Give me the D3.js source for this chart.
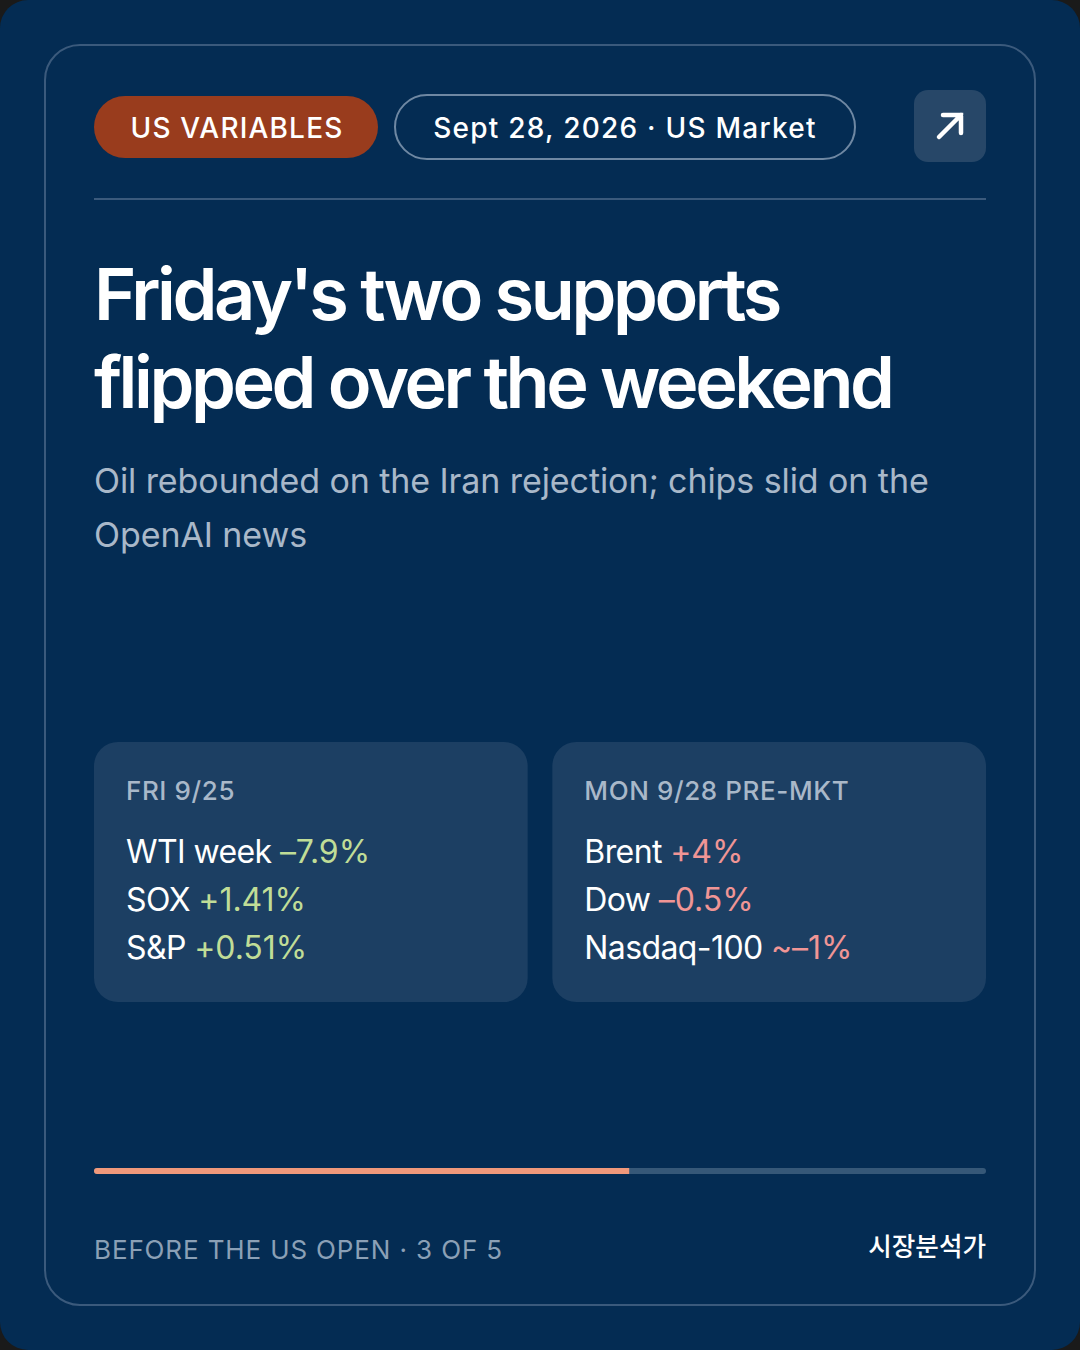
<!DOCTYPE html>
<html>
<head>
<meta charset="utf-8">
<script src="https://cdn.jsdelivr.net/npm/d3@7"></script>
<style>
  html, body { margin: 0; padding: 0; background: #1a1a1a; }
  svg { display: block; }
  text { font-family: Inter, "Noto Sans CJK KR", sans-serif; }
</style>
</head>
<body>
<div id="card"></div>
<script>
const tag = "US VARIABLES";
const dateline = "Sept 28, 2026 · US Market";
const titleLines = ["Friday's two supports", "flipped over the weekend"];
const subtitleLines = ["Oil rebounded on the Iran rejection; chips slid on the", "OpenAI news"];
const panelTitles = ["FRI 9/25", "MON 9/28 PRE-MKT"];
const fridayNames = ["WTI week", "SOX", "S&P"];
const fridayValues = ["–7.9%", "+1.41%", "+0.51%"];
const mondayNames = ["Brent", "Dow", "Nasdaq-100"];
const mondayValues = ["+4%", "–0.5%", "~–1%"];
const footer = "BEFORE THE US OPEN · 3 OF 5";
const brand = "시장분석가";
const currentStep = 3;
const totalSteps = 5;

const navy = "#042c53";
const line = "#3b5a7c";

const svg = d3
  .select("#card")
  .append("svg")
  .attr("width", 1080)
  .attr("height", 1350);

// page and inner frame
svg.append("rect").attr("width", 1080).attr("height", 1350).attr("rx", 28).attr("fill", navy);
svg
  .append("rect")
  .attr("x", 45)
  .attr("y", 45)
  .attr("width", 990)
  .attr("height", 1260)
  .attr("rx", 35)
  .attr("fill", "none")
  .attr("stroke", line)
  .attr("stroke-width", 2);

// header
svg.append("rect").attr("x", 94).attr("y", 96).attr("width", 284).attr("height", 62).attr("rx", 31).attr("fill", "#993c1d");
svg
  .append("text")
  .attr("x", 237)
  .attr("y", 138)
  .attr("text-anchor", "middle")
  .attr("font-size", 28)
  .attr("font-weight", 500)
  .attr("letter-spacing", 1.18)
  .attr("fill", "#fff")
  .text(tag);

svg
  .append("rect")
  .attr("x", 395)
  .attr("y", 95)
  .attr("width", 460)
  .attr("height", 64)
  .attr("rx", 32)
  .attr("fill", "none")
  .attr("stroke", "#6f88a3")
  .attr("stroke-width", 2);
svg
  .append("text")
  .attr("x", 625)
  .attr("y", 138)
  .attr("text-anchor", "middle")
  .attr("font-size", 28)
  .attr("font-weight", 500)
  .attr("letter-spacing", 1.24)
  .attr("fill", "#fff")
  .text(dateline);

svg.append("rect").attr("x", 914).attr("y", 90).attr("width", 72).attr("height", 72).attr("rx", 14).attr("fill", "#274768");
svg
  .append("path")
  .attr("d", "M939 137L961 115M943 115H961V133")
  .attr("fill", "none")
  .attr("stroke", "#fff")
  .attr("stroke-width", 4.5)
  .attr("stroke-linecap", "round");

svg.append("rect").attr("x", 94).attr("y", 198).attr("width", 892).attr("height", 2).attr("fill", line);

// title block
svg
  .selectAll("text.title")
  .data(titleLines)
  .join("text")
  .attr("class", "title")
  .attr("x", 94)
  .attr("y", (d, i) => 319.5 + i * 88)
  .attr("font-size", 72)
  .attr("font-weight", 600)
  .attr("letter-spacing", -3.42)
  .attr("fill", "#fff")
  .text((d) => d);

svg
  .selectAll("text.subtitle")
  .data(subtitleLines)
  .join("text")
  .attr("class", "subtitle")
  .attr("x", 94)
  .attr("y", (d, i) => 493 + i * 54)
  .attr("font-size", 34)
  .attr("letter-spacing", -0.08)
  .attr("fill", "#a9b8c9")
  .text((d) => d);

// two panels, placed with a band scale
const panelX = d3.scaleBand().domain([0, 1]).range([94, 986]).paddingInner(24 / 446);

const drawPanel = (index, names, values, colour) => {
  const g = svg.append("g").attr("transform", `translate(${panelX(index)},742)`);
  g.append("rect").attr("width", panelX.bandwidth()).attr("height", 260).attr("rx", 24).attr("fill", "#1c3f63");
  g.append("text")
    .attr("x", 32)
    .attr("y", 58)
    .attr("font-size", 26)
    .attr("font-weight", 500)
    .attr("letter-spacing", 0.6)
    .attr("fill", "#a9b8c9")
    .text(panelTitles[index]);

  const row = g
    .selectAll("text.row")
    .data(names)
    .join("text")
    .attr("class", "row")
    .attr("x", 32)
    .attr("y", (d, i) => 120.6 + i * 48)
    .attr("font-size", 32)
    .attr("letter-spacing", -0.6)
    .attr("fill", "#fff")
    .text((d) => d + " ");
  row
    .append("tspan")
    .attr("fill", colour)
    .attr("letter-spacing", -0.05)
    .text((d, i) => values[i]);
};

drawPanel(0, fridayNames, fridayValues, "#c0dd97");
drawPanel(1, mondayNames, mondayValues, "#f09595");

// progress bar
const progress = d3.scaleLinear().domain([0, totalSteps]).range([94, 986]);
svg
  .append("rect")
  .attr("x", progress(0))
  .attr("y", 1168)
  .attr("width", progress(totalSteps) - progress(0))
  .attr("height", 6)
  .attr("rx", 3)
  .attr("fill", "#365878");
svg
  .append("path")
  .attr("d", `M${progress(0) + 3} 1168H${progress(currentStep)}V1174H${progress(0) + 3}A3 3 0 0 1 ${progress(0) + 3} 1168Z`)
  .attr("fill", "#f0997b");

// footer
svg
  .append("text")
  .attr("x", 94)
  .attr("y", 1258.5)
  .attr("font-size", 26)
  .attr("letter-spacing", 0.87)
  .attr("fill", "#8ba0b6")
  .text(footer);
svg
  .append("text")
  .attr("x", 986)
  .attr("y", 1256)
  .attr("text-anchor", "end")
  .attr("font-family", '"Noto Sans CJK KR", sans-serif')
  .attr("font-size", 25.6)
  .attr("font-weight", 500)
  .attr("fill", "#fff")
  .text(brand);
</script>
</body>
</html>
